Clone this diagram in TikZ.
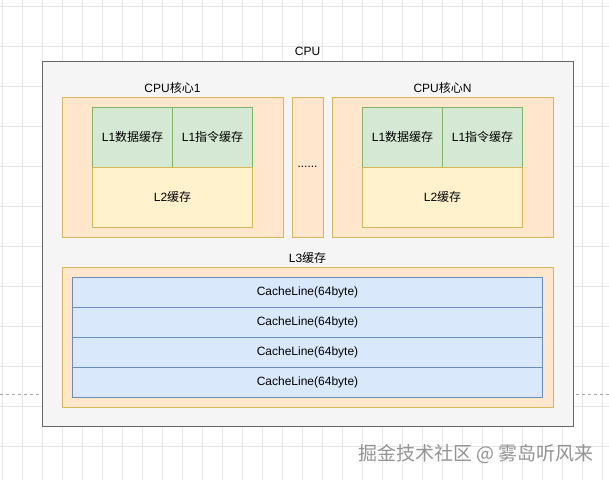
\documentclass[tikz,border=0pt]{standalone}
\usepackage{fontspec}
\setmainfont{Liberation Sans}
\newfontfamily\cjk{Noto Sans CJK SC}
\usetikzlibrary{positioning}
\definecolor{cpufill}{HTML}{F5F5F5}
\definecolor{cpuline}{HTML}{666666}
\definecolor{corefill}{HTML}{FFE6CC}
\definecolor{coreline}{HTML}{D6B656}
\definecolor{lonefill}{HTML}{D5E8D4}
\definecolor{loneline}{HTML}{82B366}
\definecolor{ltwofill}{HTML}{FFF2CC}
\definecolor{linefill}{HTML}{DAE8FC}
\definecolor{lineline}{HTML}{6C8EBF}
\definecolor{gridcol}{HTML}{E6E6E6}

\begin{document}
\begin{tikzpicture}[x=1pt, y=-1pt, node distance=80pt, on grid,
    every node/.style={font=\fontsize{12}{14}\selectfont},
    cpubox/.style={draw=cpuline, fill=cpufill, line width=1pt, inner sep=0pt, minimum width=531pt, minimum height=365pt},
    corebox/.style={draw=coreline, fill=corefill, line width=1pt, inner sep=0pt, minimum width=221pt, minimum height=140pt},
    dotbox/.style={draw=coreline, fill=corefill, line width=1pt, inner sep=0pt, minimum width=31pt, minimum height=140pt},
    lonebox/.style={draw=loneline, fill=lonefill, line width=1pt, inner sep=0pt, minimum width=80pt, minimum height=60pt},
    ltwobox/.style={draw=coreline, fill=ltwofill, line width=1pt, inner sep=0pt, minimum width=160pt, minimum height=60pt},
    lthreebox/.style={draw=coreline, fill=corefill, line width=1pt, inner sep=0pt, minimum width=491pt, minimum height=140pt},
    cachebox/.style={draw=lineline, fill=linefill, line width=1pt, inner sep=0pt, minimum width=470pt, minimum height=30pt},
    title/.style={inner sep=0pt}]
  \useasboundingbox (0,0) rectangle (609,480);
  % background grid
  \foreach \gx in {2.7,22.7,...,609} \draw[gridcol, line width=0.8pt] (\gx,0) -- (\gx,480);
  \foreach \gy in {6.7,46.7,...,480} \draw[gridcol, line width=0.8pt] (0,\gy) -- (609,\gy);
  \coordinate (pl) at (0,394.5);
  \coordinate (pr) at (609,394.5);
  \draw[gray!70, dashed, line width=0.8pt] (pl) -- (pr);

  \node[cpubox] (cpu) at (307.5,243.5) {};
  \node[title] (cpulabel) at (307.5,51) {CPU};

  % core 1
  \node[corebox] (core1) at (172.5,167) {};
  \node[title] (core1label) at (172.5,88) {CPU{\cjk 核心}1};
  \node[lonebox] (data1) at (132.5,137) {L1{\cjk 数据缓存}};
  \node[lonebox] (inst1) [right= of data1] {L1{\cjk 指令缓存}};
  \node[ltwobox] (ltwo1) at (172.5,197) {L2{\cjk 缓存}};

  % dots
  \node[dotbox] (more) at (307.5,167) {};
  \node (dots) at (307.5,167) {......};

  % core N
  \node[corebox] (coreN) at (442.5,167) {};
  \node[title] (coreNlabel) at (442.5,88) {CPU{\cjk 核心}N};
  \node[lonebox] (dataN) at (402.5,137) {L1{\cjk 数据缓存}};
  \node[lonebox] (instN) [right= of dataN] {L1{\cjk 指令缓存}};
  \node[ltwobox] (ltwoN) at (442.5,197) {L2{\cjk 缓存}};

  % L3
  \node[lthreebox] (lthree) at (307.5,337) {};
  \node[title] (lthreelabel) at (307.5,258) {L3{\cjk 缓存}};
  \node[cachebox] (line1) at (307.5,292) {CacheLine(64byte)};
  \node[cachebox] (line2) [below= 30pt of line1] {CacheLine(64byte)};
  \node[cachebox] (line3) [below= 30pt of line2] {CacheLine(64byte)};
  \node[cachebox] (line4) [below= 30pt of line3] {CacheLine(64byte)};

  \node[text=gray!85, font=\cjk\fontsize{19}{21}\selectfont, inner sep=0pt] (mark) at (476,454) {掘金技术社区 @ 雾岛听风来};
\end{tikzpicture}
\end{document}
